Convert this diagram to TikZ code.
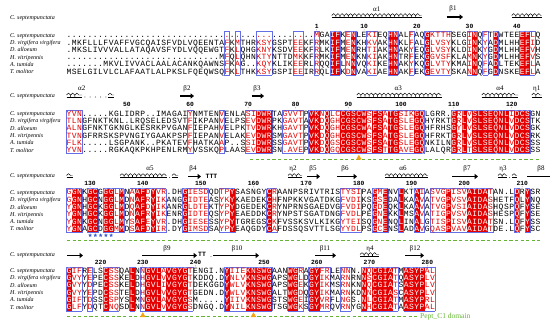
\documentclass[tikz,border=0pt]{standalone}
\usepackage{fontspec}
\setmainfont{Liberation Serif}
\setmonofont{Liberation Mono}
\usepackage{xcolor}
\usepackage{tikz}
\usetikzlibrary{positioning, arrows.meta, decorations.pathmorphing, shapes.geometric}

\definecolor{espred}{RGB}{228,0,0}
\definecolor{espblue}{RGB}{100,110,230}
\definecolor{domgreen}{RGB}{100,180,50}
\definecolor{markorange}{RGB}{245,165,20}
\definecolor{starblue}{RGB}{60,90,210}

\newcount\colno
\newcount\ncols
\def\species{C. septempunctata, D. virgifera virgifera, D. alloeum, H. vitripennis, A. tumida, T. molitor}
\def\colx#1{69+(#1-1)*5.27}
% column classes: r = identical (red box), f = similar (red letter), . = none
\def\setclass#1{\global\ncols=0 \readcls#1\relax}
\def\readcls#1{\ifx#1\relax\else\global\advance\ncols by 1\relax
  \expandafter\xdef\csname cls\the\ncols\endcsname{#1}\expandafter\readcls\fi}
\def\seqrow#1#2{\def\rowid{#1}\pgfmathsetmacro\rowy{\rtop+(#1-1)*7.3+2.6}\colno=0 \readres#2\relax}
\def\readres#1{\ifx#1\relax\else\advance\colno by 1\relax\putres{#1}\expandafter\readres\fi}
\def\putres#1{\edef\cl{\csname cls\the\colno\endcsname}\def\rescol{black}%
  \if r\cl\def\rescol{white}\fi\if f\cl\def\rescol{espred}\fi
  \node[res, text=\rescol] (b\blk r\rowid c\the\colno) at ({\colx{\the\colno}},\rowy) {#1};}
\def\boxes{%
  \pgfmathsetmacro\btop{\rtop-3.7}\pgfmathsetmacro\bbot{\rtop+5*7.3+3.7}%
  \expandafter\xdef\csname cls0\endcsname{.}%
  \pgfmathtruncatemacro\nlast{\the\ncols+1}\expandafter\xdef\csname cls\nlast\endcsname{.}%
  \edef\nc{\the\ncols}%
  \foreach \k in {1,...,\nc}{%
    \pgfmathtruncatemacro\kp{\k-1}\pgfmathtruncatemacro\kn{\k+1}%
    \edef\cl{\csname cls\k\endcsname}\edef\clp{\csname cls\kp\endcsname}\edef\cln{\csname cls\kn\endcsname}%
    \pgfmathsetmacro\xl{\colx{\k}-2.635}\pgfmathsetmacro\xr{\colx{\k}+2.635}%
    \if r\cl \fill[espred] (\xl,\btop) rectangle ({\xr+0.2},\bbot);\fi
    \if .\cl\else
      \draw[boxline] (\xl,\btop) -- (\xr,\btop) (\xl,\bbot) -- (\xr,\bbot);
      \if .\clp \draw[boxline] (\xl,\btop) -- (\xl,\bbot);\fi
      \if .\cln \draw[boxline] (\xr,\btop) -- (\xr,\bbot);\fi
    \fi}}
\def\labels#1{\node[spec] (b\blk h) at (10,#1) {C. septempunctata};
  \foreach \s [count=\i] in \species {\node[spec] (b\blk s\i) at (10,{\rtop+(\i-1)*7.3+2}) {\s};}}
\def\numbers#1#2{\foreach \n/\k in {#2}{\node[numlbl] (n\n) at ({\colx{\k}},#1) {\n};
  \fill (n\n.base) ++(0,1.4) circle (0.35);}}
\def\helixat#1#2#3{\draw[helix] (#1,#3) -- (#2,#3); \draw[line width=0.4pt] (#1,#3+2) -- (#2,#3+2);}

\begin{document}
\begin{tikzpicture}[x=1pt, y=-1pt,
  res/.style={inner sep=0pt, anchor=base, font=\ttfamily\fontsize{8}{8}\selectfont},
  spec/.style={inner sep=0pt, anchor=base west, font=\itshape\fontsize{6}{6}\selectfont},
  numlbl/.style={inner sep=0pt, anchor=base, font=\ttfamily\bfseries\fontsize{6.3}{6.3}\selectfont},
  sslbl/.style={inner sep=0pt, font=\fontsize{7}{7}\selectfont},
  turn/.style={inner sep=0pt, font=\ttfamily\bfseries\fontsize{6.5}{6.5}\selectfont},
  helix/.style={line width=0.45pt, decorate, decoration={coil, aspect=0.5, segment length=4.2pt, amplitude=1.9pt}},
  strand/.style={line width=1.4pt, -{Triangle[length=3.4pt, width=5.2pt]}},
  boxline/.style={draw=espblue, line width=0.6pt},
  pfamline/.style={draw=domgreen, line width=1pt, dash pattern=on 3.2pt off 2.4pt},
  site/.style={regular polygon, regular polygon sides=3, fill=markorange, inner sep=0pt, minimum size=6.5pt},
  cys/.style={star, star points=5, star point ratio=2.3, fill=starblue, inner sep=0pt, minimum size=4pt}]
\useasboundingbox (0,0) rectangle (550,329);

% block 1
\def\blk{1}\def\rtop{35.2}
\setclass{.......... .......... .......... f.f...fff. ...ff..f.. rr.fr..ff. .rr..f..rf fff...fr.f .r....rrf.}
\boxes
\seqrow{1}{.......... .......... .......... .......... .......MGA IFKENLEKIE QHNALFAQGK TTHSEGINQF TDWTEEEFLQ}
\seqrow{2}{.MKFLLLFVA FFVGCQAISF VDLVQEENTA FKMTHRKSYG SPTEEKFRMK IFMENKHKVA KHNKLFALGL VSYKLGINKY ADMLHHEFID}
\seqrow{3}{.MKSLIVVVA LLATAQAVSF YDLVQQEWGT FKLQHGKNYK SDVEEKFRLK IFMENRHTIA KHNAKYEQGL VSYKLDINKY GDMLHHEFVH}
\seqrow{4}{.......... .......... .........M FQLQHNKTYN TTDMKKFRMK IFMENKNKIA KHNTRFEKGG VSFKLAMNKY GDMLHHEFVS}
\seqrow{5}{.......MKV LIVVACLAAL ACANKQAWNS FKAG..KQYK LIKEERLRQQ IFLNNVQKIK EHNAKYKQGL VTYKMAINQF ADLTEKEFLA}
\seqrow{6}{MSELGILVLC LAFAATLALP KSLFQEQWSQ FKLTHKKSYG SPIEEIRRQL IFKDNVAKIA EHNAKFEKGE VTYSKANNQF GDNSKEEFLA}
\labels{19.5}
\numbers{28.5}{1/48,10/57,20/67,30/77,40/86}
\node[sslbl] (a1) at (376.7,9) {α1};
\helixat{331.7}{421.7}{15.5}
\node[sslbl] (s1) at (453,9) {β1};
\draw[strand] (446.7,17) -- (463,17);
\helixat{511.7}{541.7}{15.5}

% block 2
\def\blk{2}\def\rtop{113.6}
\setclass{fff....... .......... ...f.....f ....ffrrr. .ffff.rrfr ffrrrrrfrr frrfffrr.. ...rfrfrrr rrrrfrrr..}
\boxes
\seqrow{1}{YVN.....KG LIDRP..IMA GAIYNMTENV ENLASIDWRT AGVVTPVKNQ LCCGSCWSFS ATGSIKGQLG RR.GRLVSLS EQNLIDCSGN}
\seqrow{2}{TLNGFNKTKN L.LRQSELED SVTFIKPANV ELPSEVDWRP KGAVTAVKDQ GHCGSCWSFS ATGSLEGQHY RKTGRLVSLS EQNLVDCSTK}
\seqrow{3}{ALNGFNKTGK NGLKESRKPV GANFIEPAHV ELPKTVDWRK HGAVTPVKDQ GHCGSCWAFS ATGSLEGQHF RHSGYLVSLS EQNLVDCSGK}
\seqrow{4}{TVNGFRRSKS PVNGIYGAAK PSPFIEPANV ELAKEVDWRS MGAVTPVKDQ GHCGSCWSFS ATGSLEGQHF RKTGRLVSLS EQNLVDCSRK}
\seqrow{5}{FLK.....LS GPANK..PKA TEVFHATKAA P..SSIDWRS SGAVTPVKDQ GSCGSCWSFS ATGSLEGQNK ILNGRLVSLS EQNLVDCSSS}
\seqrow{6}{YVN.....RG KAQKPKHPEN LRMYVSSKQP LAASEVDWRS N.AVEPVKDQ GQCGSCWSFS TTGAVEGQLA LQRGRLTSLS EQNLVDCSSS}
\labels{98}
\numbers{106.5}{50/12,60/24,70/35,80/44,90/54,100/64,110/74,120/85}
\node[sslbl] (a2) at (81.7,88.5) {α2};
\helixat{66.5}{82}{95}
\foreach \k in {4,...,8} \fill ({\colx{\k}},97) circle (0.45);
\helixat{108}{114}{95}
\node[sslbl] (s2) at (187,88.5) {β2};
\draw[strand] (180,96) -- (194,96);
\node[sslbl] (s3) at (257,88.5) {β3};
\draw[strand] (251.7,96) -- (264,96);
\node[sslbl] (a3) at (398.3,88.5) {α3};
\helixat{356.7}{441.7}{95}
\node[sslbl] (a4) at (500,88.5) {α4};
\helixat{481.7}{518.3}{95}
\node[sslbl] (e1) at (536.7,88.5) {η1};
\helixat{531.7}{541.7}{95}
\coordinate (g2a) at (250,159.3);
\coordinate (g2b) at (540,159.3);
\draw[pfamline] (g2a) -- (g2b);
\node[site] (t1) at ({\colx{56}},158) {};

% block 3
\def\blk{3}\def\rtop{192.4}
\setclass{frr.rr.rrf r.frrfrff. ..rffff..f fr......rf .......... ..ffff..rf r..r..rf.f ffrfffrrrr f....r.r..}
\boxes
\seqrow{1}{GGNKGCGGGL MNAAFDYVR. DHGIESDQDT PYSASNGYCR AANPSRIVTR ISTYSIPAGM ENVLKTAIAS VGPISVAIDA TAN.LDRYSR}
\seqrow{2}{GGNHGCNGGL MDNAFRYIKA NGGIDTEASY KYKAEDEKCH FNPKKVGATD KGFVDIKSGS EDALKAAVAT VGPVSVAIDA SHETFQLYNQ}
\seqrow{3}{YGNHGCKGGL MDQAFDYIKA NRGLDTEKTY PYDGEDEKCR YNPRNSGAED VGFVDIPQGD EQKLKAAVAT VGPVSIAIDA SHQSPQFYSE}
\seqrow{4}{YGNHGCKGGL MDNAFRYIKE NRGIDTEQSY PYEAEDDKCR YNPSTSGATD NGFVDLPEGN EKKLMSAVAT IGPVSVAIDA SHESPQFYSE}
\seqrow{5}{YGNKGCNGGL MYSAFEYVR. DHGIESESSY PYTGREGSCK FVSSKSVLKI KGYTEISQGN ENQLINALGT ISPISVAIDA TSN.LQFYSS}
\seqrow{6}{YGNAGCDGGM MDSAFDYIR. DYGIMSDSAY PYEAQGDYCA FDSSQSVTTL SGYYDLPSGC ENSLADAVGQ ASPVAVAIDA TDE.LQFYSC}
\labels{178}
\numbers{185.5}{130/5,140/15,150/26,160/36,170/46,180/56,190/66,200/76,210/87}
\helixat{66.5}{72.5}{175.5}
\node[sslbl] (a5) at (150,168.5) {α5};
\helixat{120}{166.7}{175.5}
\fill (169.5,177.5) circle (0.45);
\helixat{172}{178}{175.5}
\node[sslbl] (s4) at (193,168.5) {β4};
\draw[strand] (188,176.5) -- (201,176.5);
\node[turn] (tt1) at (211.5,176.5) {TTT};
\node[sslbl] (e2) at (293,168.5) {η2};
\helixat{288}{302}{175.5}
\node[sslbl] (s5) at (313,168.5) {β5};
\draw[strand] (307,176.5) -- (320,176.5);
\node[sslbl] (s6) at (345,168.5) {β6};
\draw[strand] (337,176.5) -- (357,176.5);
\node[sslbl] (a6) at (403,168.5) {α6};
\helixat{385}{428}{175.5}
\node[sslbl] (s7) at (467,168.5) {β7};
\draw[strand] (452,176.5) -- (478,176.5);
\node[sslbl] (e3) at (503,168.5) {η3};
\helixat{498}{507}{175.5}
\fill (509.5,177.5) circle (0.45);
\helixat{512}{517}{175.5}
\node[sslbl] (s8) at (541,168.5) {β8};
\draw[line width=1.4pt] (527,176.5) -- (550,176.5);
\foreach \k in {5,...,9} \node[cys] (c\k) at ({\colx{\k}},235.3) {};
\coordinate (g3a) at (67,240.5);
\coordinate (g3b) at (540,240.5);
\draw[pfamline] (g3a) -- (g3b);

% block 4
\def\blk{4}\def\rtop{270.6}
\setclass{rff.f..rff ..r.frrrfr rrrf...... rfffrrrrr. ..rrf.rrff ..ff..rfrr rrf.rrrrff}
\boxes
\seqrow{1}{GIFRELSCSS QALNNGVLAV GYGTENGI.N YIIEKNSWGA ANWGRAGYFR LENNN.NQCG IATMASYPAL}
\seqrow{2}{GVYYEPECSS KELDHGVLVV GYGTKDDQ.D YNLVKNSWGA PSWGLDGYIK MARNRNNSCG IATQASYPLV}
\seqrow{3}{GVYYDPECSS KELDHGVLIV GYGTDEKGGD YWLVKNSWGA PSWGEKGYIK MSRNKNNQCG IATSASYPLV}
\seqrow{4}{GVYYEPDCSS TELDHGVLVV GYGTGEDN.D YWLVKNSWGA LTWGDQGYIK MARNKDNNCG IASCASYPLV}
\seqrow{5}{GIFTDSSCSP YSLMNGVLAV GYGSM..... YIIVKNSWGS TSWGEIGYVR FLNGS.NLCG IATMASYPRL}
\seqrow{6}{GLFYDQTCNQ SDLNNGVLVV GYGSDNGQ.D YNILKNSWGT SGWGKSGYMR QVRNYGNHCG IATAASYPAL}
\labels{256}
\numbers{264.5}{220/7,230/15,240/25,250/38,260/48,270/58,280/69}
\draw[strand] (67,255.5) -- (83,255.5);
\node[sslbl] (s9) at (167,249) {β9};
\draw[strand] (142,255.5) -- (197,255.5);
\node[turn] (tt2) at (202,254.5) {TT};
\fill (211,256.5) circle (0.45);
\node[sslbl] (s10) at (237,249) {β10};
\draw[strand] (213,255.5) -- (259,255.5);
\node[sslbl] (s11) at (325,249) {β11};
\draw[strand] (315,255.5) -- (336,255.5);
\node[sslbl] (e4) at (370,249) {η4};
\helixat{360}{379}{254.5}
\node[sslbl] (s12) at (415,249) {β12};
\draw[strand] (405,255.5) -- (424,255.5);
\coordinate (g4a) at (67,316.8);
\coordinate (g4b) at (418,316.8);
\draw[pfamline] (g4a) -- (g4b);
\node[site] (t2) at ({\colx{15}},315.5) {};
\node[site] (t3) at ({\colx{36}},315.5) {};
\node[inner sep=0pt, text=domgreen, font=\fontsize{7.5}{7.5}\selectfont, right=2pt of g4b] (dom) {Pept\_C1 domain};
\end{tikzpicture}
\end{document}
